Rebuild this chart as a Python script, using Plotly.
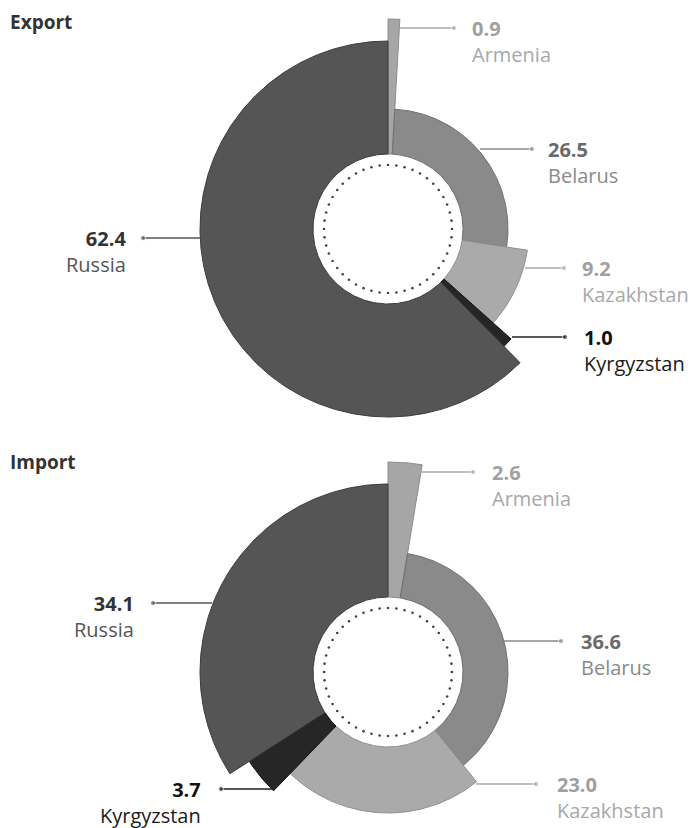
import numpy as np
import plotly.graph_objects as go

# ---------------- data ----------------
countries = ["Armenia", "Belarus", "Kazakhstan", "Kyrgyzstan", "Russia"]
export_share = [0.9, 26.5, 9.2, 1.0, 62.4]
import_share = [2.6, 36.6, 23.0, 3.7, 34.1]
# outer radius of each country's wedge (same in both charts, px)
outer_radius = [210, 120, 141, 165, 188]
panel_titles = ["Export", "Import"]

# ---------------- style / layout ----------------
W, H = 692, 828
INNER_R = 75
DOT_R = 64
centers = [(388, 229), (388, 672)]
slice_colors = ["#a6a6a6", "#8a8a8a", "#aaaaaa", "#262626", "#555555"]
edge_colors = ["#8c8c8c", "#707070", "#909090", "#111111", "#3c3c3c"]
num_colors = ["#a0a0a0", "#6a6a6a", "#a0a0a0", "#111111", "#333333"]
name_colors = ["#a8a8a8", "#8a8a8a", "#a8a8a8", "#1a1a1a", "#555555"]
line_colors = ["#aaaaaa", "#8a8a8a", "#aaaaaa", "#222222", "#555555"]

# label layout per panel: (line x0, line x1, line y, text x, text anchor)
label_layout = [
    {  # Export
        "Armenia": (399, 454, 28, 470, "left"),
        "Belarus": (480, 532, 149, 546, "left"),
        "Kazakhstan": (525, 564, 268, 580, "left"),
        "Kyrgyzstan": (512, 565, 337, 582, "left"),
        "Russia": (200, 143, 238, 128, "right"),
    },
    {  # Import
        "Armenia": (420, 473, 472, 490, "left"),
        "Belarus": (504, 561, 641, 579, "left"),
        "Kazakhstan": (476, 536, 784, 555, "left"),
        "Kyrgyzstan": (275, 221, 789, 203, "right"),
        "Russia": (212, 153, 603, 136, "right"),
    },
]
title_pos = [(8, 22), (8, 462)]
FONT = "Open Sans"
FS = 20
LINE_H = 26  # plotly line spacing (1.3 * font size)


def wedge(cx, cy, a0, a1, r0, r1):
    n = max(3, int(abs(a1 - a0) * 2) + 2)
    t = np.radians(np.linspace(a0, a1, n))
    xo = cx + r1 * np.sin(t)
    yo = cy - r1 * np.cos(t)
    xi = cx + r0 * np.sin(t[::-1])
    yi = cy - r0 * np.cos(t[::-1])
    x = np.concatenate([xo, xi, xo[:1]])
    y = np.concatenate([yo, yi, yo[:1]])
    return x, y


fig = go.Figure()
annotations = []

for p, shares in enumerate([export_share, import_share]):
    cx, cy = centers[p]
    total = float(sum(shares))
    start = 0.0
    for i, (c, v) in enumerate(zip(countries, shares)):
        span = v / total * 360.0
        x, y = wedge(cx, cy, start, start + span, INNER_R, outer_radius[i])
        fig.add_trace(go.Scatter(
            x=x, y=y, mode="lines", fill="toself",
            fillcolor=slice_colors[i],
            line=dict(color=edge_colors[i], width=1),
            hoverinfo="skip", showlegend=False))
        start += span

    # dotted inner circle
    t = np.radians(np.arange(0, 360, 7.5))
    fig.add_trace(go.Scatter(
        x=cx + DOT_R * np.sin(t), y=cy - DOT_R * np.cos(t), mode="markers",
        marker=dict(size=2.6, color="#444444"),
        hoverinfo="skip", showlegend=False))

    # leaders and labels
    for i, (c, v) in enumerate(zip(countries, shares)):
        x0, x1, ly, tx, anchor = label_layout[p][c]
        fig.add_trace(go.Scatter(
            x=[x0, x1], y=[ly, ly], mode="lines+markers",
            line=dict(color=line_colors[i], width=1.3),
            marker=dict(size=[0, 5], color=line_colors[i]),
            hoverinfo="skip", showlegend=False))
        text = (f"<span style='color:{num_colors[i]}'><b>{v:.1f}</b></span><br>"
                f"<span style='color:{name_colors[i]}'>{c}</span>")
        annotations.append(dict(
            x=tx, y=ly + LINE_H / 2, xref="x", yref="y", text=text,
            showarrow=False, xanchor=anchor, yanchor="middle", align=anchor,
            font=dict(family=FONT, size=FS, color=name_colors[i])))

    annotations.append(dict(
        x=title_pos[p][0], y=title_pos[p][1], xref="x", yref="y",
        text=f"<b>{panel_titles[p]}</b>", showarrow=False,
        xanchor="left", yanchor="middle",
        font=dict(family=FONT, size=FS - 1, color="#333333")))

fig.update_layout(
    width=W, height=H,
    margin=dict(l=0, r=0, t=0, b=0),
    paper_bgcolor="white", plot_bgcolor="white",
    xaxis=dict(range=[0, W], visible=False, fixedrange=True),
    yaxis=dict(range=[H, 0], visible=False, fixedrange=True),
    annotations=annotations,
    showlegend=False,
)

fig.write_html("out.html")
